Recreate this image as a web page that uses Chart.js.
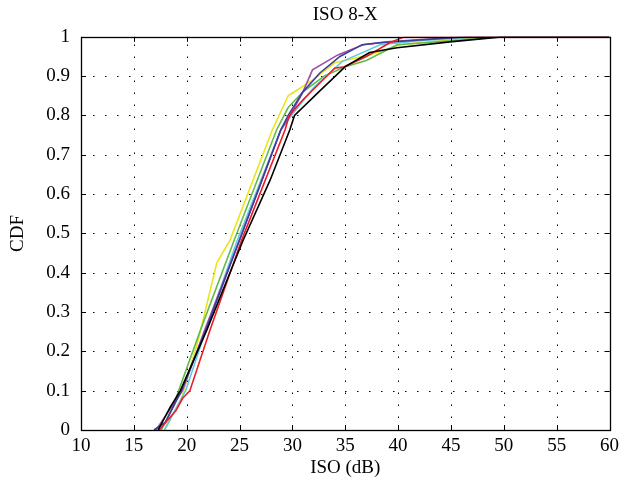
<!DOCTYPE html>
<html>
<head>
<meta charset="utf-8">
<script src="https://cdn.jsdelivr.net/npm/chart.js@4/dist/chart.umd.min.js"></script>
<style>
html,body{margin:0;padding:0;background:#fff;}
#wrap{width:624px;height:482px;}
</style>
</head>
<body>
<div id="wrap"><canvas id="c" width="624" height="482"></canvas></div>
<script>
// ISO values (dB) and CDF values per series
const blackX   = [17.3, 18.4, 19.4, 21.9, 25.3, 27.9, 29.75, 30.2, 32.5, 35, 37.3, 39.9, 44.9, 50, 60];
const blackY   = [0, 0.056, 0.1, 0.254, 0.48, 0.636, 0.763, 0.8, 0.86, 0.924, 0.96, 0.972, 0.987, 1, 1];
const redX     = [17.4, 19, 19.6, 20.3, 22.2, 25.2, 29.3, 29.7, 31, 32.5, 34, 34.9, 37, 39.2, 40.6, 60];
const redY     = [0, 0.05, 0.08, 0.1, 0.254, 0.483, 0.763, 0.8, 0.84, 0.88, 0.92, 0.924, 0.95, 0.985, 1, 1];
const blueX    = [16.9, 18, 19.5, 21.8, 25, 28.9, 29.6, 31, 32.6, 34.5, 36.6, 38.3, 41, 46.4, 60];
const blueY    = [0, 0.02, 0.1, 0.254, 0.483, 0.763, 0.8, 0.86, 0.908, 0.95, 0.98, 0.985, 0.99, 1, 1];
const magentaX = [17.1, 19.6, 21.7, 25, 28.9, 29.8, 31, 31.9, 34.3, 36.7, 38.9, 46.4, 60];
const magentaY = [0, 0.1, 0.254, 0.483, 0.763, 0.8, 0.86, 0.916, 0.954, 0.98, 0.987, 1, 1];
const cyanX    = [17.9, 19.9, 21.8, 24.8, 28.9, 29.9, 32, 34.7, 38.3, 42, 48, 60];
const cyanY    = [0, 0.1, 0.254, 0.483, 0.763, 0.8, 0.87, 0.937, 0.98, 0.99, 1, 1];
const greenX   = [17.6, 18.7, 21.3, 24.5, 28.5, 29.6, 31, 33, 35, 37, 39.9, 45, 50, 60];
const greenY   = [0, 0.06, 0.254, 0.483, 0.763, 0.82, 0.86, 0.9, 0.924, 0.94, 0.98, 0.99, 1, 1];
const yellowX  = [17.9, 19.5, 21.1, 22.85, 24.1, 28.1, 29.6, 31.9, 34, 37.3, 40.2, 44, 48.3, 60];
const yellowY  = [0, 0.08, 0.23, 0.425, 0.483, 0.763, 0.85, 0.89, 0.934, 0.954, 0.98, 0.99, 1, 1];

const xTicks = [10, 15, 20, 25, 30, 35, 40, 45, 50, 55, 60];
const yTicks = [0, 0.1, 0.2, 0.3, 0.4, 0.5, 0.6, 0.7, 0.8, 0.9, 1];

const seriesList = [
  {name: 'black', xs: blackX, ys: blackY, color: '#000000'},
  {name: 'red', xs: redX, ys: redY, color: '#ed1c24'},
  {name: 'blue', xs: blueX, ys: blueY, color: '#3a3f9e'},
  {name: 'magenta', xs: magentaX, ys: magentaY, color: '#a24ea2'},
  {name: 'cyan', xs: cyanX, ys: cyanY, color: '#62c8e0'},
  {name: 'green', xs: greenX, ys: greenY, color: '#62bb47'},
  {name: 'yellow', xs: yellowX, ys: yellowY, color: '#ece41a'}
];

const FONT = 'Liberation Serif';
const FS = 19;

const frame = {
  id: 'frame',
  beforeDatasetsDraw(chart) {
    const {ctx, chartArea: a, scales: {x, y}} = chart;
    ctx.save();
    ctx.strokeStyle = '#000';
    ctx.lineWidth = 1;
    ctx.setLineDash([1.5, 10.5]);
    xTicks.forEach(v => {
      if (v === xTicks[0] || v === xTicks[xTicks.length - 1]) return;
      const px = Math.round(x.getPixelForValue(v)) + 0.5;
      ctx.beginPath(); ctx.moveTo(px, a.bottom); ctx.lineTo(px, a.top); ctx.stroke();
    });
    yTicks.forEach(v => {
      if (v === yTicks[0] || v === yTicks[yTicks.length - 1]) return;
      const py = Math.round(y.getPixelForValue(v)) + 0.5;
      ctx.beginPath(); ctx.moveTo(a.left, py); ctx.lineTo(a.right, py); ctx.stroke();
    });
    ctx.restore();
  },
  afterDatasetsDraw(chart) {
    const {ctx, chartArea: a, scales: {x, y}} = chart;
    ctx.save();
    ctx.strokeStyle = '#000';
    ctx.lineWidth = 1;
    ctx.setLineDash([]);
    const T = 5;
    xTicks.forEach(v => {
      const px = Math.round(x.getPixelForValue(v)) + 0.5;
      ctx.beginPath(); ctx.moveTo(px, a.bottom); ctx.lineTo(px, a.bottom - T); ctx.stroke();
      ctx.beginPath(); ctx.moveTo(px, a.top); ctx.lineTo(px, a.top + T); ctx.stroke();
    });
    yTicks.forEach(v => {
      const py = Math.round(y.getPixelForValue(v)) + 0.5;
      ctx.beginPath(); ctx.moveTo(a.left, py); ctx.lineTo(a.left + T, py); ctx.stroke();
      ctx.beginPath(); ctx.moveTo(a.right, py); ctx.lineTo(a.right - T, py); ctx.stroke();
    });
    ctx.lineWidth = 1.3;
    ctx.strokeRect(Math.round(a.left) + 0.5, Math.round(a.top) + 0.5,
                   Math.round(a.right - a.left), Math.round(a.bottom - a.top));
    ctx.restore();
  }
};

new Chart(document.getElementById('c'), {
  type: 'line',
  data: {
    datasets: seriesList.map(s => ({
      label: s.name,
      data: s.xs.map((v, i) => ({x: v, y: s.ys[i]})),
      borderColor: s.color,
      borderWidth: 1.6,
      pointRadius: 0,
      tension: 0,
      fill: false
    }))
  },
  options: {
    responsive: false,
    animation: false,
    layout: {padding: {top: 0, right: 14, left: 0, bottom: 0}},
    plugins: {
      legend: {display: false},
      tooltip: {enabled: false},
      title: {
        display: true,
        fullSize: false,
        text: 'ISO 8-X',
        color: '#000',
        font: {family: FONT, size: FS, weight: 'normal'},
        padding: {top: 4, bottom: 10}
      }
    },
    scales: {
      x: {
        type: 'linear',
        min: 10, max: 60,
        afterBuildTicks: sc => { sc.ticks = xTicks.map(v => ({value: v})); },
        afterFit: sc => { sc.height = 52; },
        grid: {display: false, drawTicks: false},
        border: {display: false},
        ticks: {color: '#000', font: {family: FONT, size: FS}, padding: 5, maxRotation: 0, autoSkip: false},
        title: {display: true, text: 'ISO (dB)', color: '#000', font: {family: FONT, size: FS}, padding: {top: 0, bottom: 3}}
      },
      y: {
        type: 'linear',
        min: 0, max: 1,
        afterBuildTicks: sc => { sc.ticks = yTicks.map(v => ({value: v})); },
        afterFit: sc => { sc.width = 81; },
        grid: {display: false, drawTicks: false},
        border: {display: false},
        ticks: {color: '#000', font: {family: FONT, size: FS}, padding: 11, autoSkip: false,
                callback: v => String(Math.round(v * 10) / 10)},
        title: {display: true, text: 'CDF', color: '#000', font: {family: FONT, size: FS}, padding: {top: 7, bottom: 4}}
      }
    }
  },
  plugins: [frame]
});
</script>
</body>
</html>
